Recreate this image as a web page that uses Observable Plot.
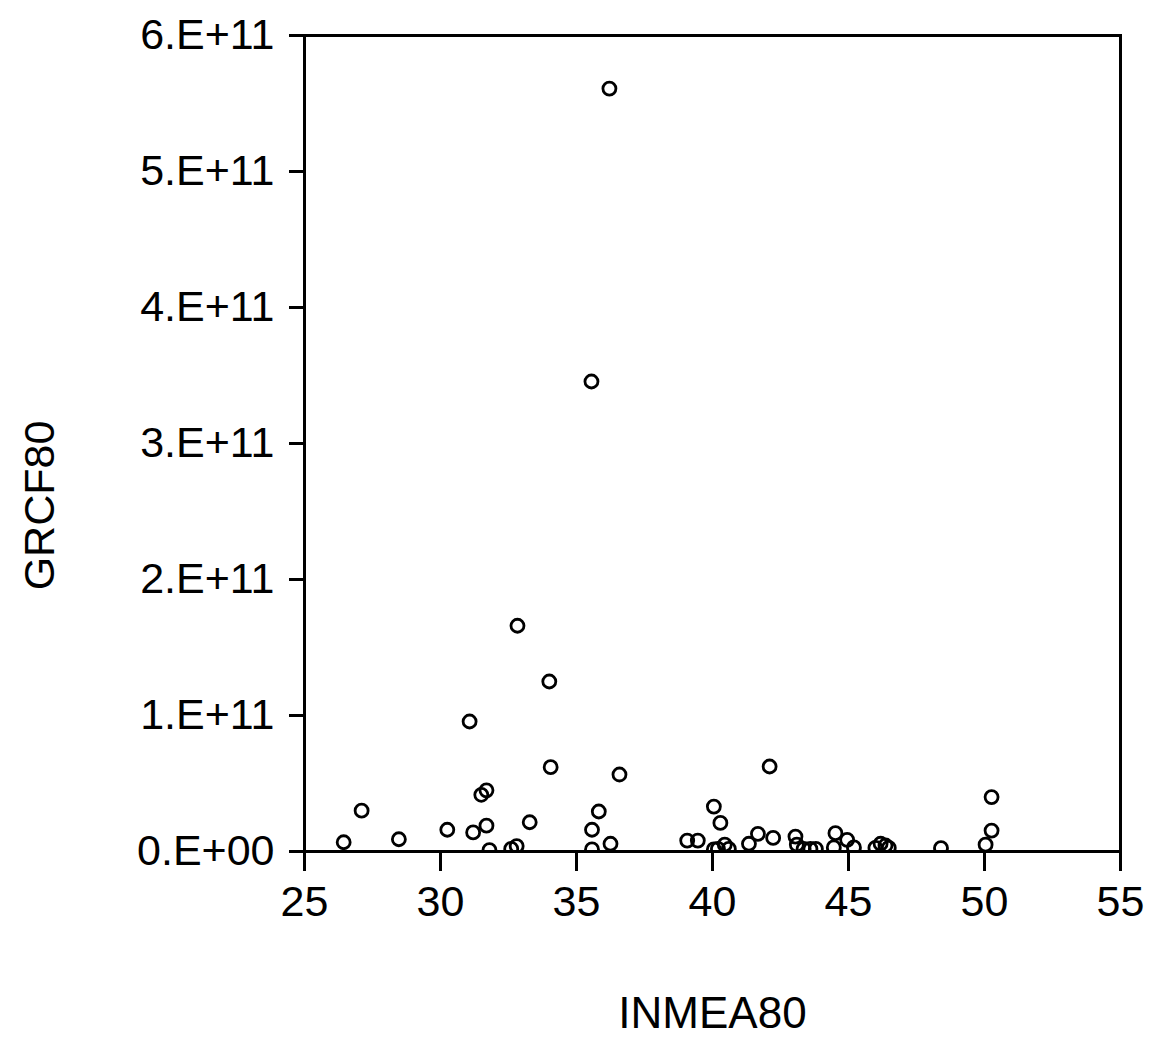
<!DOCTYPE html>
<html>
<head>
<meta charset="utf-8">
<script src="https://cdn.jsdelivr.net/npm/d3@7"></script>
<script src="https://cdn.jsdelivr.net/npm/@observablehq/plot@0.6"></script>
<style>
  html, body { margin: 0; padding: 0; background: #fff; }
  svg { display: block; }
</style>
</head>
<body>
<div id="chart"></div>
<script>
// INMEA80 values (x)
const inmea80 = [26.44, 27.1, 28.47, 30.25, 31.07, 31.2, 31.5, 31.69, 31.69, 31.8,
  32.6, 32.8, 32.83, 33.28, 34.0, 34.05, 35.55, 35.57, 35.57, 35.82,
  36.21, 36.25, 36.58, 39.07, 39.46, 40.05, 40.29, 40.05, 40.2, 40.45,
  40.6, 41.34, 41.67, 42.1, 42.23, 43.05, 43.1, 43.35, 43.6, 43.8,
  44.46, 44.52, 44.95, 45.2, 45.99, 46.18, 46.36, 46.48, 48.4, 50.04,
  50.26, 50.26];
// GRCF80 values (y)
const grcf80 = [6.8e9, 3.0e10, 9e9, 1.6e10, 9.56e10, 1.4e10, 4.17e10, 4.5e10, 1.9e10, 1e9,
  2e9, 4e9, 1.66e11, 2.15e10, 1.25e11, 6.2e10, 3.456e11, 1.6e10, 1.5e9, 2.94e10,
  5.61e11, 5.7e9, 5.66e10, 8e9, 8e9, 3.3e10, 2.1e10, 1.5e9, 2e9, 5e9,
  2e9, 5.7e9, 1.3e10, 6.25e10, 1e10, 1.1e10, 5e9, 2e9, 2e9, 2e9,
  3e9, 1.35e10, 8.6e9, 3e9, 2.7e9, 5.7e9, 4.4e9, 2.7e9, 2.5e9, 5e9,
  1.54e10, 4.0e10];
const xTicks = [25, 30, 35, 40, 45, 50, 55];
const yTicks = [0, 1e11, 2e11, 3e11, 4e11, 5e11, 6e11];
const yTickLabels = ["0.E+00", "1.E+11", "2.E+11", "3.E+11", "4.E+11", "5.E+11", "6.E+11"];
const xTitle = "INMEA80";
const yTitle = "GRCF80";

const data = inmea80.map((x, i) => ({x, y: grcf80[i]}));

const chart = Plot.plot({
  width: 1153,
  height: 1038,
  marginLeft: 304,
  marginRight: 33,
  marginTop: 35,
  marginBottom: 187,
  style: {fontFamily: "'Liberation Sans', Arial, sans-serif", color: "#000", background: "#fff"},
  x: {domain: [25, 55]},
  y: {domain: [0, 6e11]},
  marks: [
    Plot.dot(data, {x: "x", y: "y", r: 6.5, stroke: "#000", strokeWidth: 2.8, fill: "none", clip: true}),
    Plot.frame({stroke: "#000", strokeWidth: 3}),
    Plot.axisX({ticks: xTicks, tickFormat: d => String(d), tickSize: 20, tickPadding: 14,
      fontSize: 43, strokeWidth: 3, label: null}),
    Plot.axisY({ticks: yTicks, tickFormat: d => yTickLabels[yTicks.indexOf(d)], tickSize: 15,
      tickPadding: 15, fontSize: 43, strokeWidth: 3, label: null}),
    Plot.text([xTitle], {frameAnchor: "bottom", dy: 176, fontSize: 44, text: d => d}),
    Plot.text([yTitle], {frameAnchor: "left", textAnchor: "middle", dx: -264, dy: 62, rotate: -90, fontSize: 43, text: d => d})
  ]
});
document.getElementById("chart").appendChild(chart);
</script>
</body>
</html>
